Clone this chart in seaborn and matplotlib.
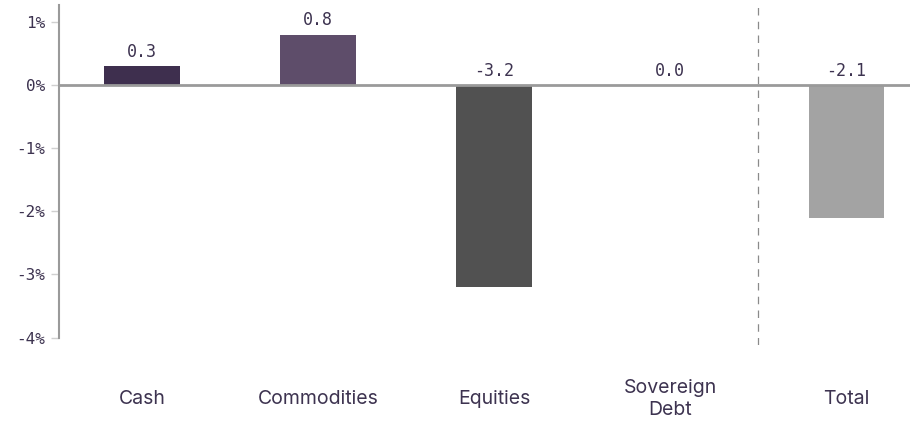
import matplotlib
matplotlib.use('Agg')
import matplotlib.pyplot as plt
import seaborn as sns
import pandas as pd

## 데이터
categories = ['Cash', 'Commodities', 'Equities', 'Sovereign\nDebt', 'Total']
values = [0.3, 0.8, -3.2, 0.0, -2.1]
bar_colors = ['#3e2f4e', '#5e4d6a', '#515151', '#ffffff', '#a3a3a3']
y_ticks = [1, 0, -1, -2, -3, -4]

text_color = '#3d3350'
num_font = ['DejaVu Sans Mono']
label_font = ['Inter', 'DejaVu Sans']

sns.set_theme(style='white')
plt.rcParams['font.family'] = label_font

df = pd.DataFrame({'category': categories, 'value': values})

fig = plt.figure(figsize=(9.15, 4.24), dpi=100)
ax = fig.add_axes([0.0645, 0.186, 0.930, 0.802])

sns.barplot(data=df, x='category', y='value', hue='category',
            palette=bar_colors, width=0.43, legend=False, ax=ax,
            saturation=1, linewidth=0)

## 0 기준선, 구분선
ax.axhline(0, color='#9a9a9a', lw=2, zorder=3)
ax.axvline(3.5, color='#8a8a8a', lw=0.9, ls=(0, (6, 5)), zorder=1)

## 값 라벨
for i, v in enumerate(values):
    y = max(v, 0) + 0.09
    ax.text(i, y, f'{v:.1f}', ha='center', va='bottom', fontsize=12,
            color=text_color, family=num_font)

ax.set_xlim(-0.47, 4.36)
ax.set_ylim(-4.12, 1.27)
ax.set_yticks(y_ticks)
ax.set_yticklabels([f'{t}%' for t in y_ticks], family=num_font,
                   fontsize=11.5, color=text_color)
ax.set_xticks(range(len(categories)))
ax.set_xticklabels(categories, fontsize=14, color=text_color,
                   va='center', linespacing=1.3)
ax.tick_params(axis='x', length=0, pad=39)
ax.tick_params(axis='y', length=6, width=1, color='#d0d0d0', pad=4, left=True)

for s in ['top', 'right', 'bottom']:
    ax.spines[s].set_visible(False)
ax.spines['left'].set_color('#9a9a9a')
ax.spines['left'].set_linewidth(1.5)
ax.spines['left'].set_bounds(-4, 1.27)

ax.set_xlabel('')
ax.set_ylabel('')
ax.grid(False)

fig.savefig('out.png', dpi=100)
